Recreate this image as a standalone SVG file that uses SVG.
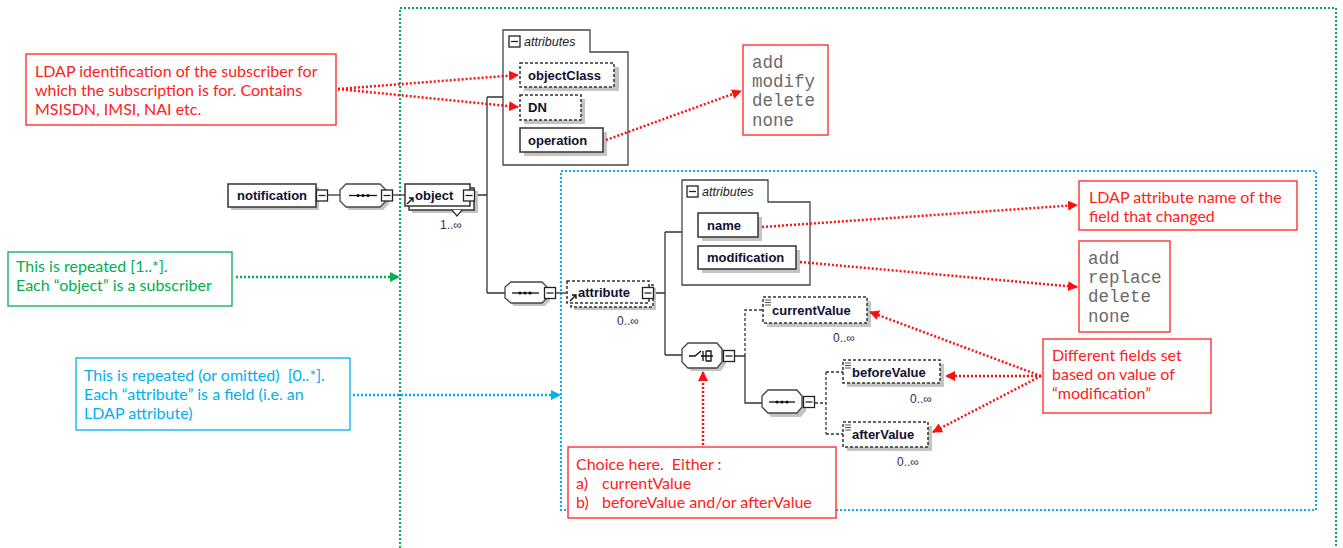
<svg xmlns="http://www.w3.org/2000/svg" width="1343" height="548" viewBox="0 0 1343 548">
  <defs>
    <style>
      .frame-g { fill: none; stroke: #00b050; stroke-width: 2; stroke-dasharray: 2 2; }
      .frame-b { fill: none; stroke: #00b0f0; stroke-width: 2; stroke-dasharray: 2 2; }
      .shadow { fill: #c4c4c4; }
      .box { fill: #fff; stroke: #333; stroke-width: 1.5; }
      .box-opt { fill: #fff; stroke: #333; stroke-width: 1.5; stroke-dasharray: 3 2; }
      .grp { fill: #fff; stroke: #444; stroke-width: 1.3; }
      .wire { fill: none; stroke: #333; stroke-width: 1.3; }
      .wire-opt { fill: none; stroke: #333; stroke-width: 1.3; stroke-dasharray: 3 2; }
      .btn { fill: #fff; stroke: #222; stroke-width: 1.3; }
      .lbl { font-family: "Liberation Sans", Arial, sans-serif; font-size: 13px; font-weight: bold; fill: #101030; }
      .grp-lbl { font-family: "Liberation Sans", Arial, sans-serif; font-size: 12.5px; font-style: italic; fill: #222; }
      .mult { font-family: "Liberation Sans", Arial, sans-serif; font-size: 12px; fill: #303050; }
      .note { fill: #fff; stroke: #ff2020; stroke-width: 1.3; }
      .note-g { fill: #fff; stroke: #00b050; stroke-width: 1.3; }
      .note-b { fill: #fff; stroke: #00b0f0; stroke-width: 1.3; }
      .nt { font-family: Lato, "Open Sans", sans-serif; font-size: 16px; white-space: pre; }
      .red { fill: #ff2020; }
      .green { fill: #00b050; }
      .blue { fill: #00b0f0; }
      .mono { font-family: "Liberation Mono", "Courier New", monospace; font-size: 17.5px; fill: #6a6a6a; }
      .ptr-r { fill: none; stroke: #ff1010; stroke-width: 2.5; stroke-dasharray: 2 2; }
      .ptr-g { fill: none; stroke: #00b050; stroke-width: 2.5; stroke-dasharray: 2 2; }
      .ptr-b { fill: none; stroke: #00b0f0; stroke-width: 2.5; stroke-dasharray: 2 2; }
    </style>
    <marker id="ah-r" viewBox="0 0 10 10" refX="9" refY="5" markerWidth="4" markerHeight="4" orient="auto" markerUnits="strokeWidth">
      <path d="M0,0 L10,5 L0,10 Z" fill="#ff1010"/>
    </marker>
    <marker id="ah-g" viewBox="0 0 10 10" refX="9" refY="5" markerWidth="4" markerHeight="4" orient="auto" markerUnits="strokeWidth">
      <path d="M0,0 L10,5 L0,10 Z" fill="#00b050"/>
    </marker>
    <marker id="ah-b" viewBox="0 0 10 10" refX="9" refY="5" markerWidth="4" markerHeight="4" orient="auto" markerUnits="strokeWidth">
      <path d="M0,0 L10,5 L0,10 Z" fill="#00b0f0"/>
    </marker>
    <!-- collapse button: small square with a minus -->
    <g id="minus">
      <rect class="btn" x="-5.5" y="-5.5" width="11" height="11"/>
      <path d="M-3.5,0 H3.5" stroke="#222" stroke-width="1.3"/>
    </g>
    <!-- simple-content marker in element corners -->
    <g id="simple">
      <path d="M0,0 H6 M0,2.5 H6 M0,5 H6" stroke="#555" stroke-width="1"/>
    </g>
    <!-- reference arrow in element corners -->
    <g id="ref">
      <path d="M0,6 L6,0 M2,0 H6 V4" fill="none" stroke="#111" stroke-width="1.4"/>
    </g>
  </defs>

  <!-- scope frames -->
  <rect class="frame-g" x="400" y="8" width="936" height="560"/>
  <rect class="frame-b" x="561" y="171" width="755" height="339"/>

  <!-- schema connectors -->
  <g id="connectors">
    <path class="wire" d="M328,195 H340"/>
    <path class="wire" d="M392,195 H405"/>
    <path class="wire" d="M475,195 H487 M487,97 V293 M487,97 H503 M487,293 H505"/>
    <path class="wire" d="M556,293 H567"/>
    <path class="wire" d="M654,293 H665 M665,232 V355 M665,232 H682 M665,355 H682"/>
    <path class="wire" d="M735,356 H745 V403 H762"/>
    <path class="wire-opt" d="M745,356 V310 H763"/>
    <path class="wire-opt" d="M815,403 H826 M826,372 V434 M826,372 H843 M826,434 H843"/>
  </g>

  <!-- notification -->
  <g id="node-notification">
    <rect class="shadow" x="231" y="187" width="88" height="23"/>
    <rect class="box" x="228" y="184" width="88" height="23"/>
    <text class="lbl" x="237" y="200">notification</text>
    <use href="#minus" x="322" y="195.5"/>
  </g>

  <!-- top sequence -->
  <g id="node-seq1">
    <path class="shadow" d="M349,187 H383 L389,193 V204 L383,210 H349 L343,204 V193 Z"/>
    <path class="grp" d="M346,184 H380 L386,190 V201 L380,207 H346 L340,201 V190 Z"/>
    <path d="M349,195.5 H377" stroke="#111" stroke-width="1.3"/>
    <circle cx="358" cy="195.5" r="1.6" fill="#111"/>
    <circle cx="363" cy="195.5" r="1.6" fill="#111"/>
    <circle cx="368" cy="195.5" r="1.6" fill="#111"/>
    <use href="#minus" x="387" y="195.5"/>
  </g>

  <!-- object (1..n) -->
  <g id="node-object">
    <rect class="shadow" x="412" y="191" width="66" height="22"/>
    <rect class="box" x="409" y="188" width="65" height="22"/>
    <rect class="box" x="405" y="184" width="65" height="22"/>
    <path d="M452,210 L457,216 L462,210" fill="#fff" stroke="#333" stroke-width="1.2"/>
    <use href="#ref" x="407" y="198"/>
    <text class="lbl" x="415" y="200">object</text>
    <use href="#minus" x="469" y="195.5"/>
    <text class="mult" x="440" y="229">1..∞</text>
  </g>

  <!-- object attributes group -->
  <g id="node-object-attributes">
    <path class="grp" d="M503,30 H590 V52 H628 V165 H503 Z"/>
    <use href="#minus" x="514.5" y="41.5"/>
    <text class="grp-lbl" x="524" y="46">attributes</text>
  </g>
  <g id="node-objectClass">
    <rect class="shadow" x="524" y="67" width="95" height="24"/>
    <rect class="box-opt" x="520" y="63" width="94" height="24"/>
    <text class="lbl" x="528" y="80">objectClass</text>
  </g>
  <g id="node-DN">
    <rect class="shadow" x="524" y="99" width="61" height="25"/>
    <rect class="box-opt" x="520" y="95" width="61" height="25"/>
    <text class="lbl" x="528" y="112">DN</text>
  </g>
  <g id="node-operation">
    <rect class="shadow" x="524" y="132" width="83" height="24"/>
    <rect class="box" x="520" y="128" width="83" height="24"/>
    <text class="lbl" x="528" y="145">operation</text>
  </g>

  <!-- attribute sequence -->
  <g id="node-seq2">
    <path class="shadow" d="M514,286 H545 L550,291 V301 L545,306 H514 L509,301 V291 Z"/>
    <path class="grp" d="M511,282 H542 L547,287 V298 L542,303 H511 L505,298 V287 Z"/>
    <path d="M512,293 H539" stroke="#111" stroke-width="1.3"/>
    <circle cx="520" cy="293" r="1.6" fill="#111"/>
    <circle cx="525" cy="293" r="1.6" fill="#111"/>
    <circle cx="530" cy="293" r="1.6" fill="#111"/>
    <use href="#minus" x="550" y="293"/>
  </g>

  <!-- attribute (0..n) -->
  <g id="node-attribute">
    <rect class="shadow" x="574" y="288" width="82" height="22"/>
    <rect class="box-opt" x="571" y="285" width="82" height="22"/>
    <rect class="box-opt" x="567" y="281" width="82" height="22"/>
    <use href="#ref" x="570" y="295"/>
    <text class="lbl" x="578" y="297">attribute</text>
    <use href="#minus" x="648" y="293"/>
    <text class="mult" x="617" y="325">0..∞</text>
  </g>

  <!-- attribute attributes group -->
  <g id="node-attribute-attributes">
    <path class="grp" d="M682,180 H768 V202 H810 V285 H682 Z"/>
    <use href="#minus" x="692.5" y="191.5"/>
    <text class="grp-lbl" x="702" y="196">attributes</text>
  </g>
  <g id="node-name">
    <rect class="shadow" x="702" y="217" width="60" height="24"/>
    <rect class="box" x="698" y="213" width="60" height="24"/>
    <text class="lbl" x="707" y="230">name</text>
  </g>
  <g id="node-modification">
    <rect class="shadow" x="702" y="250" width="98" height="23"/>
    <rect class="box" x="698" y="246" width="98" height="23"/>
    <text class="lbl" x="707" y="262">modification</text>
  </g>

  <!-- choice -->
  <g id="node-choice">
    <path class="shadow" d="M691,347 H721 L726,352 V364 L721,371 H691 L686,366 V352 Z"/>
    <path class="grp" d="M688,343 H717 L722,349 V362 L717,368 H688 L682,362 V349 Z"/>
    <path d="M689,356 H695 L701,351 M701,356 H713 M703,351 V361 M706,351 V361 M706,351 H711 V361 H706" fill="none" stroke="#111" stroke-width="1.3"/>
    <use href="#minus" x="729" y="356"/>
  </g>

  <g id="node-currentValue">
    <rect class="shadow" x="767" y="301" width="104" height="26"/>
    <rect class="box-opt" x="763" y="297" width="104" height="26"/>
    <use href="#simple" x="765" y="300"/>
    <text class="lbl" x="772" y="315">currentValue</text>
    <text class="mult" x="833" y="342">0..∞</text>
  </g>

  <!-- value sequence -->
  <g id="node-seq3">
    <path class="shadow" d="M771,394 H801 L806,400 V411 L801,417 H771 L766,411 V400 Z"/>
    <path class="grp" d="M768,390 H797 L802,396 V407 L797,413 H768 L762,407 V396 Z"/>
    <path d="M769,402 H795" stroke="#111" stroke-width="1.3"/>
    <circle cx="777" cy="402" r="1.6" fill="#111"/>
    <circle cx="782" cy="402" r="1.6" fill="#111"/>
    <circle cx="787" cy="402" r="1.6" fill="#111"/>
    <use href="#minus" x="809" y="402"/>
  </g>

  <g id="node-beforeValue">
    <rect class="shadow" x="847" y="364" width="97" height="23"/>
    <rect class="box-opt" x="843" y="360" width="97" height="23"/>
    <use href="#simple" x="845" y="363"/>
    <text class="lbl" x="852" y="377">beforeValue</text>
    <text class="mult" x="910" y="403">0..∞</text>
  </g>
  <g id="node-afterValue">
    <rect class="shadow" x="847" y="426" width="85" height="25"/>
    <rect class="box-opt" x="843" y="422" width="85" height="25"/>
    <use href="#simple" x="845" y="425"/>
    <text class="lbl" x="852" y="439">afterValue</text>
    <text class="mult" x="897" y="466">0..∞</text>
  </g>

  <!-- annotation callouts -->
  <g id="note-ldap-id">
    <rect class="note" x="26" y="54" width="310" height="71"/>
    <text class="nt red" x="35" y="77">LDAP identification of the subscriber for</text>
    <text class="nt red" x="35" y="96">which the subscription is for. Contains</text>
    <text class="nt red" x="35" y="115">MSISDN, IMSI, NAI etc.</text>
  </g>
  <g id="note-operation-values">
    <rect class="note" x="743" y="45" width="85" height="90"/>
    <text class="mono" x="752" y="68">add</text>
    <text class="mono" x="752" y="87">modify</text>
    <text class="mono" x="752" y="106">delete</text>
    <text class="mono" x="752" y="126">none</text>
  </g>
  <g id="note-attr-name">
    <rect class="note" x="1079" y="181" width="218" height="49"/>
    <text class="nt red" x="1089" y="203">LDAP attribute name of the</text>
    <text class="nt red" x="1089" y="222">field that changed</text>
  </g>
  <g id="note-modification-values">
    <rect class="note" x="1079" y="241" width="91" height="91"/>
    <text class="mono" x="1088" y="264">add</text>
    <text class="mono" x="1088" y="283">replace</text>
    <text class="mono" x="1088" y="302">delete</text>
    <text class="mono" x="1088" y="322">none</text>
  </g>
  <g id="note-fields">
    <rect class="note" x="1043" y="339" width="168" height="74"/>
    <text class="nt red" x="1052" y="361">Different fields set</text>
    <text class="nt red" x="1052" y="380">based on value of</text>
    <text class="nt red" x="1052" y="399">“modification”</text>
  </g>
  <g id="note-choice">
    <rect class="note" x="568" y="447" width="268" height="71"/>
    <text class="nt red" x="576" y="470">Choice here.  Either :</text>
    <text class="nt red" x="576" y="489">a)</text>
    <text class="nt red" x="602" y="489">currentValue</text>
    <text class="nt red" x="576" y="508">b)</text>
    <text class="nt red" x="602" y="508">beforeValue and/or afterValue</text>
  </g>
  <g id="note-object-repeat">
    <rect class="note-g" x="8" y="252" width="224" height="54"/>
    <text class="nt green" x="16" y="272">This is repeated [1..*].</text>
    <text class="nt green" x="16" y="291">Each “object” is a subscriber</text>
  </g>
  <g id="note-attribute-repeat">
    <rect class="note-b" x="76" y="358" width="274" height="72"/>
    <text class="nt blue" x="84" y="381">This is repeated (or omitted)  [0..*].</text>
    <text class="nt blue" x="84" y="400">Each “attribute” is a field (i.e. an</text>
    <text class="nt blue" x="84" y="419">LDAP attribute)</text>
  </g>

  <!-- callout pointers -->
  <g id="pointers">
    <path class="ptr-r" marker-end="url(#ah-r)" d="M338,89 L518,75"/>
    <path class="ptr-r" marker-end="url(#ah-r)" d="M338,89 L518,107"/>
    <path class="ptr-r" marker-end="url(#ah-r)" d="M606,140 L741,91"/>
    <path class="ptr-r" marker-end="url(#ah-r)" d="M762,227 L1077,205"/>
    <path class="ptr-r" marker-end="url(#ah-r)" d="M800,262 L1077,287"/>
    <path class="ptr-r" marker-end="url(#ah-r)" d="M1041,376 L870,312"/>
    <path class="ptr-r" marker-end="url(#ah-r)" d="M1041,376 L946,376"/>
    <path class="ptr-r" marker-end="url(#ah-r)" d="M1041,376 L933,432"/>
    <path class="ptr-r" marker-end="url(#ah-r)" d="M703,445 L703,372"/>
    <path class="ptr-g" marker-end="url(#ah-g)" d="M236,277 L399,277"/>
    <path class="ptr-b" marker-end="url(#ah-b)" d="M353,395 L560,395"/>
  </g>
</svg>
